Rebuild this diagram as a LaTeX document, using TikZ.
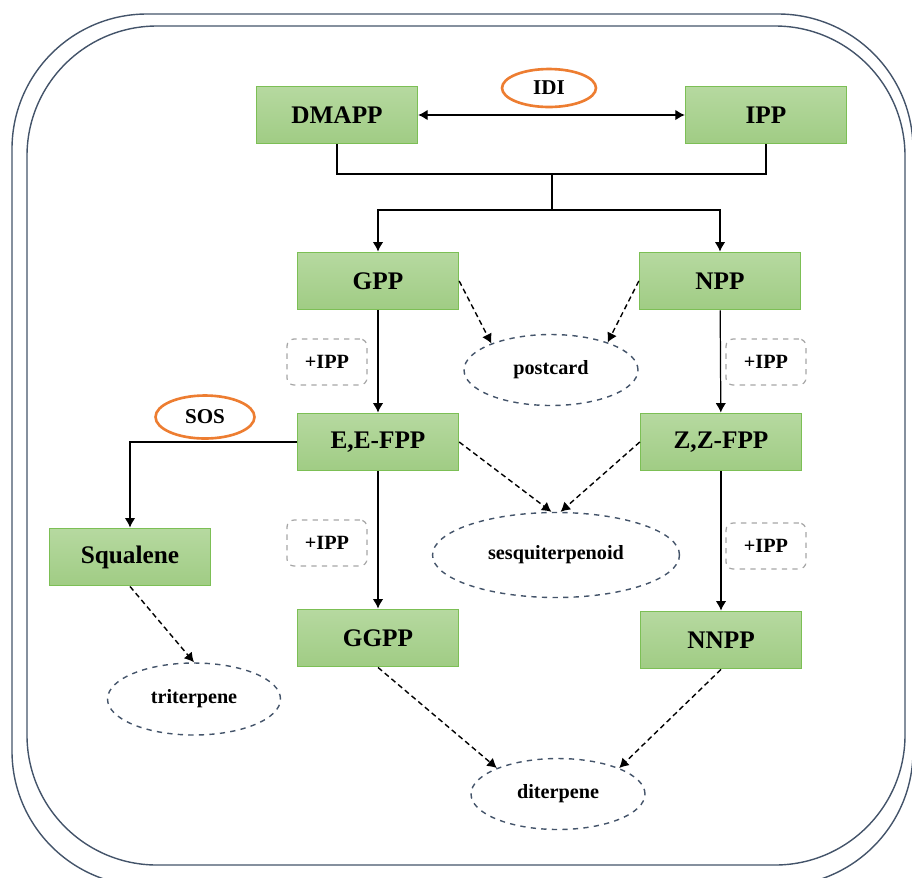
\documentclass[tikz,border=0pt]{standalone}
\usepackage{fontspec}
\setmainfont{Liberation Serif}
\usepackage{xcolor}
\usepackage{tikz}
\usetikzlibrary{shapes.geometric,arrows.meta}
\definecolor{boxtop}{HTML}{B6D9A0}
\definecolor{boxbot}{HTML}{A0CC84}
\definecolor{boxline}{HTML}{7CBF55}
\definecolor{framecol}{HTML}{44546A}
\definecolor{enzcol}{HTML}{ED7D31}
\definecolor{plusgray}{HTML}{A6A6A6}

\begin{document}
\begin{tikzpicture}[x=0.02cm,y=-0.02cm,
			metab/.style={rectangle,draw=boxline,top color=boxtop,bottom color=boxbot,line width=0.8pt,
				minimum width=3.22cm,minimum height=1.15cm,
				font=\fontsize{14.4}{16}\selectfont\bfseries},
			product/.style={ellipse,draw=framecol,dashed,line width=0.8pt,inner sep=0pt,
				minimum width=3.48cm,minimum height=1.42cm,
				font=\fontsize{11.5}{13}\selectfont\bfseries},
			enzyme/.style={ellipse,draw=enzcol,line width=1.5pt,inner sep=0pt,
				font=\fontsize{12}{14}\selectfont\bfseries},
			addipp/.style={rectangle,draw=plusgray,dashed,rounded corners=4pt,line width=0.7pt,
				minimum width=1.6cm,minimum height=0.92cm,
				font=\fontsize{11.5}{13}\selectfont\bfseries},
			flow/.style={-{Latex[length=1.9mm,width=2.1mm]},line width=0.7pt},
			dflow/.style={flow,line width=0.8pt,dash pattern=on 3pt off 2pt}]
			\clip (0,0) rectangle (912,877);
			% frame
			\draw[framecol,line width=0.8pt,rounded corners=2.7cm] (12,14) rectangle (913,886);
			\draw[framecol,line width=0.8pt,rounded corners=2.6cm] (27,26) rectangle (905,865);
			% metabolites
			\node[metab] (dmapp) at (337,115) {DMAPP};
			\node[metab] (ipp) at (766,115) {IPP};
			\node[metab] (gpp) at (378,281) {GPP};
			\node[metab] (npp) at (720,281) {NPP};
			\node[metab] (eefpp) at (378,442) {E,E-FPP};
			\node[metab] (zzfpp) at (721,442) {Z,Z-FPP};
			\node[metab] (squalene) at (130,557) {Squalene};
			\node[metab] (ggpp) at (378,638) {GGPP};
			\node[metab] (nnpp) at (721,640) {NNPP};
			% enzymes
			\node[enzyme,minimum width=1.88cm,minimum height=0.76cm] (idi) at (549,88) {IDI};
			\node[enzyme,minimum width=1.98cm,minimum height=0.86cm] (sos) at (205,417) {SOS};
			% +IPP
			\node[addipp] (plusa) at (327,362) {+IPP};
			\node[addipp] (plusb) at (766,362) {+IPP};
			\node[addipp] (plusc) at (327,543) {+IPP};
			\node[addipp] (plusd) at (766,546) {+IPP};
			% products
			\node[product] (postcard) at (551,370) {postcard};
			\node[product,minimum width=4.94cm,minimum height=1.7cm] (sesqui) at (556,555) {sesquiterpenoid};
			\node[product,minimum width=3.46cm,minimum height=1.44cm] (triterp) at (194,699) {triterpene};
			\node[product] (diterp) at (558,794) {diterpene};
			% branching
			\coordinate (split) at (552,174);
			\coordinate (fork) at (552,210);
			\draw[{Latex[length=1.9mm,width=2.1mm]}-{Latex[length=1.9mm,width=2.1mm]},line width=0.7pt] (dmapp) -- (ipp);
			\draw[line width=0.7pt] (dmapp.south) |- (split) -| (ipp.south);
			\draw[line width=0.7pt] (split) -- (fork);
			\draw[flow] (fork) -| (gpp.north);
			\draw[flow] (fork) -| (npp.north);
			\draw[flow] (gpp) -- (eefpp);
			\draw[flow] (eefpp) -- (ggpp);
			\draw[flow] (npp) -- (zzfpp);
			\draw[flow] (zzfpp) -- (nnpp);
			\draw[flow] (eefpp.west) -| (squalene.north);
			% to products
			\draw[dflow] (gpp.east) -- (postcard.156);
			\draw[dflow] (npp.west) -- (postcard.26);
			\draw[dflow] (eefpp.east) -- (sesqui.96);
			\draw[dflow] (zzfpp.west) -- (sesqui.84);
			\draw[dflow] (squalene.south) -- (triterp.north);
			\draw[dflow] (ggpp.south) -- (diterp.157);
			\draw[dflow] (nnpp.south) -- (diterp.23);
		\end{tikzpicture}
\end{document}
